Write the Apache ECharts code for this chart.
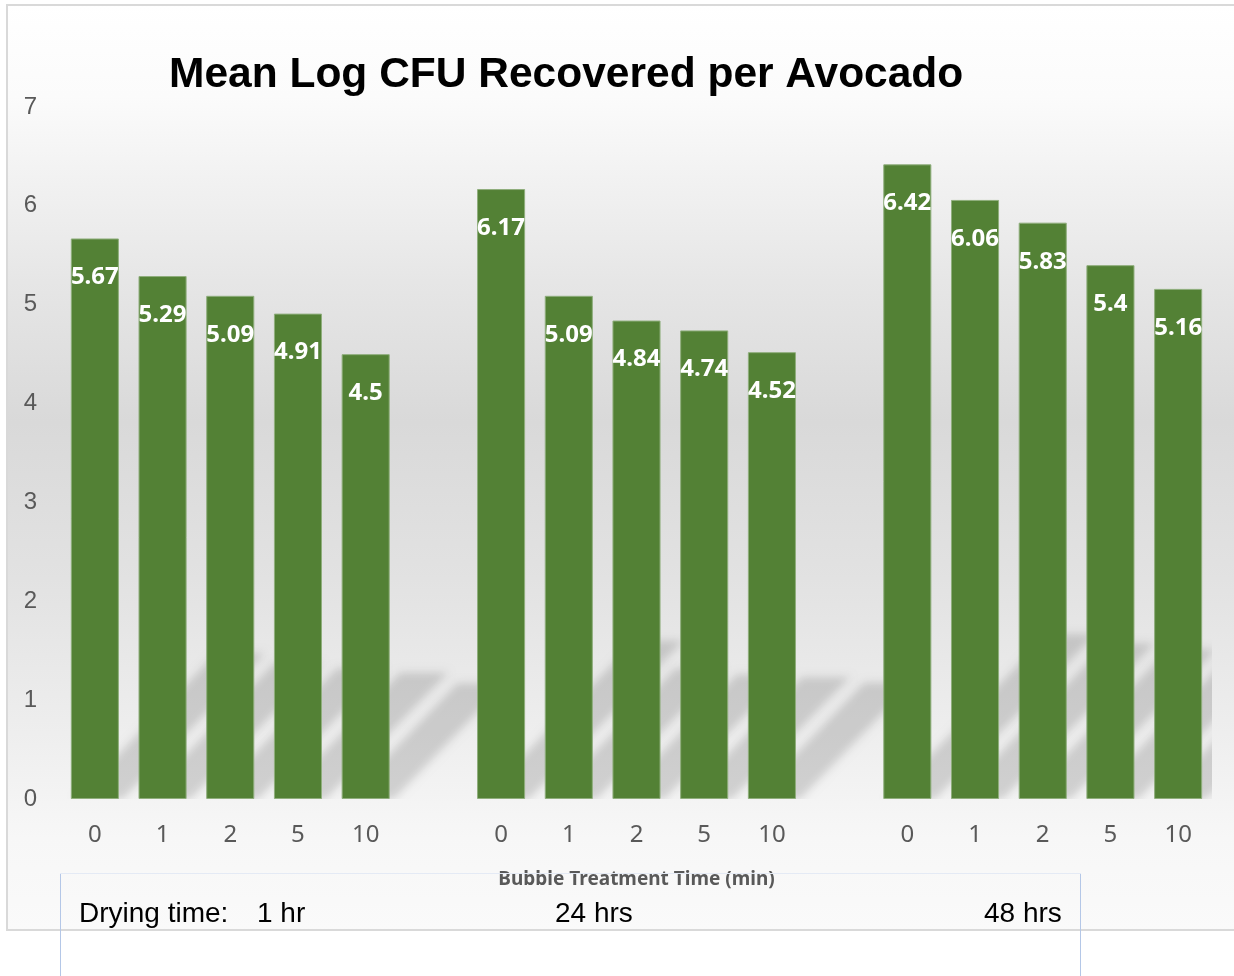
<!DOCTYPE html>
<html>
<head>
<meta charset="utf-8">
<title>Mean Log CFU Recovered per Avocado</title>
<script src="https://cdn.jsdelivr.net/npm/echarts@6/dist/echarts.min.js"></script>
<style>
  html, body { margin: 0; padding: 0; background: #ffffff; }
  #chart { width: 1234px; height: 976px; }
</style>
</head>
<body>
<div id="chart"></div>
<script>
// Bubble treatment times (min) shown under each bar
const treatmentTimes = ['0', '1', '2', '5', '10'];
// Mean log CFU per avocado, one array per drying time
const dry1hr = [5.67, 5.29, 5.09, 4.91, 4.5];
const dry24hr = [6.17, 5.09, 4.84, 4.74, 4.52];
const dry48hr = [6.42, 6.06, 5.83, 5.4, 5.16];
const dryingLabels = ['1 hr', '24 hrs', '48 hrs'];
const yTicks = [0, 1, 2, 3, 4, 5, 6, 7];

// One category axis with an empty slot between the drying-time groups
const groups = [dry1hr, dry24hr, dry48hr];
const categories = [];
const values = [];
groups.forEach((g, gi) => {
  if (gi > 0) { categories.push(''); values.push('-'); }
  g.forEach((v, i) => { categories.push(treatmentTimes[i]); values.push(v); });
});

const BAR_RATIO = 0.71;
const OFF = 3000; // shapes are drawn off to the left; only their blurred shadow lands in the plot

const chart = echarts.init(document.getElementById('chart'), null, { renderer: 'canvas' });

chart.setOption({
  animation: false,
  backgroundColor: '#ffffff',
  title: {
    text: 'Mean Log CFU Recovered per Avocado',
    left: 164,
    top: 49,
    textStyle: {
      fontFamily: 'Liberation Sans, Arial, sans-serif',
      fontSize: 42.5,
      fontWeight: 'bold',
      color: '#000000',
      lineHeight: 42
    }
  },
  grid: { left: 61, right: 22, top: 107, bottom: 177, containLabel: false },
  xAxis: {
    type: 'category',
    data: categories,
    boundaryGap: true,
    axisLine: { show: false },
    axisTick: { show: false },
    axisLabel: {
      interval: 0,
      margin: 24,
      fontFamily: 'Noto Sans, sans-serif',
      fontSize: 24,
      lineHeight: 24,
      color: '#595959'
    },
    name: 'Bubble Treatment Time (min)',
    nameLocation: 'middle',
    nameGap: 71,
    nameTextStyle: {
      fontFamily: 'Noto Sans, sans-serif',
      fontSize: 19,
      fontWeight: 'bold',
      color: '#595959',
      lineHeight: 20
    }
  },
  yAxis: {
    type: 'value',
    min: yTicks[0],
    max: yTicks[yTicks.length - 1],
    interval: 1,
    axisLine: { show: false },
    axisTick: { show: false },
    splitLine: { show: false },
    axisLabel: {
      margin: 24,
      fontFamily: 'Liberation Sans, Arial, sans-serif',
      fontSize: 24,
      color: '#595959'
    }
  },
  graphic: [
    {
      type: 'rect',
      z: -10,
      shape: { x: 7, y: 5, width: 1240, height: 925 },
      style: {
        fill: new echarts.graphic.LinearGradient(0, 0, 0, 1, [
          { offset: 0, color: '#ffffff' },
          { offset: 0.1, color: '#fbfbfb' },
          { offset: 0.3, color: '#e6e6e6' },
          { offset: 0.45, color: '#d9d9d9' },
          { offset: 0.62, color: '#e2e2e2' },
          { offset: 0.8, color: '#efefef' },
          { offset: 0.9, color: '#f7f7f7' },
          { offset: 1, color: '#fafafa' }
        ]),
        stroke: '#d9d9d9',
        lineWidth: 2
      }
    },
    // Drying-time text box
    { type: 'line', z: 5, shape: { x1: 60.5, y1: 873, x2: 60.5, y2: 976 }, style: { stroke: '#b4c7e7', lineWidth: 1 } },
    { type: 'line', z: 5, shape: { x1: 1080.5, y1: 873, x2: 1080.5, y2: 976 }, style: { stroke: '#b4c7e7', lineWidth: 1 } },
    { type: 'line', z: 5, shape: { x1: 60, y1: 873.5, x2: 1081, y2: 873.5 }, style: { stroke: '#e4eaf5', lineWidth: 1 } },
    {
      type: 'text', z: 6, left: 79, top: 900,
      style: { text: 'Drying time:', font: '28px "Liberation Sans", Arial, sans-serif', fill: '#000000' }
    },
    {
      type: 'text', z: 6, left: 257, top: 900,
      style: { text: dryingLabels[0], font: '28px "Liberation Sans", Arial, sans-serif', fill: '#000000' }
    },
    {
      type: 'text', z: 6, left: 555, top: 900,
      style: { text: dryingLabels[1], font: '28px "Liberation Sans", Arial, sans-serif', fill: '#000000' }
    },
    {
      type: 'text', z: 6, left: 984, top: 900,
      style: { text: dryingLabels[2], font: '28px "Liberation Sans", Arial, sans-serif', fill: '#000000' }
    }
  ],
  series: [
    {
      // soft slanted shadows cast by the bars
      type: 'custom',
      z: 1,
      clip: true,
      silent: true,
      data: values,
      renderItem: function (params, api) {
        const v = api.value(0);
        if (v == null || isNaN(v)) return null;
        const idx = params.dataIndex;
        const top = api.coord([idx, v]);
        const base = api.coord([idx, 0]);
        const w = api.size([1, 0])[0] * BAR_RATIO;
        const x0 = top[0] - w / 2;
        const x1 = top[0] + w / 2;
        const by = base[1];
        const d = (by - top[1]) * 0.26;
        return {
          type: 'polygon',
          shape: {
            points: [
              [x0 + 4 - OFF, by],
              [x1 + 4 - OFF, by],
              [x1 + d - OFF, by - d],
              [x0 + d - OFF, by - d]
            ]
          },
          style: {
            fill: 'rgba(0,0,0,0.38)',
            shadowColor: 'rgba(0,0,0,0.38)',
            shadowBlur: 9,
            shadowOffsetX: OFF,
            shadowOffsetY: 0
          }
        };
      },
      encode: { x: -1, y: 0 }
    },
    {
      type: 'bar',
      z: 3,
      data: values,
      barWidth: (BAR_RATIO * 100) + '%',
      itemStyle: {
        color: '#538135',
        borderColor: '#8fae7c',
        borderWidth: 1
      },
      label: {
        show: true,
        position: 'insideTop',
        distance: 26,
        fontFamily: 'Noto Sans, sans-serif',
        fontSize: 24,
        lineHeight: 26,
        fontWeight: 'bold',
        color: '#ffffff',
        formatter: function (p) { return String(p.value); }
      }
    }
  ]
});
</script>
</body>
</html>
